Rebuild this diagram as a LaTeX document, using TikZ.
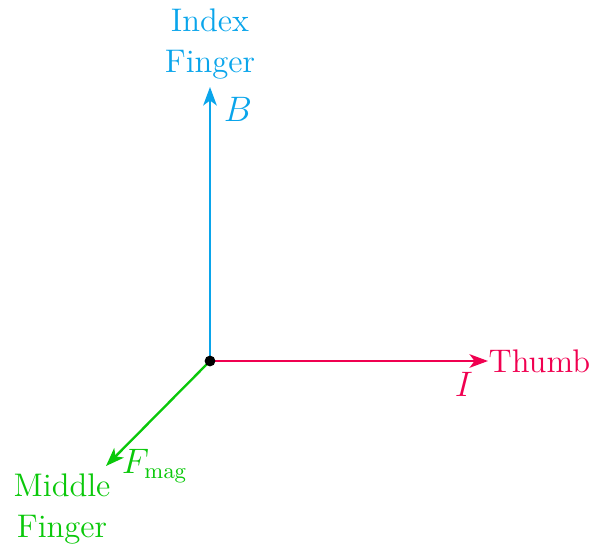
\documentclass[12pt,tikz,border=0pt]{standalone}
\usetikzlibrary{arrows.meta}
\definecolor{cblue}{RGB}{10,165,235}
\definecolor{cred}{RGB}{240,0,80}
\definecolor{cgreen}{RGB}{10,200,10}
\begin{document}
\begin{tikzpicture}[x=0.01429cm,y=-0.01429cm,
  font=\fontsize{13.3}{16.5}\selectfont,
  axis/.style={line width=0.95pt,-{Stealth[length=7.5pt,width=5.5pt,inset=2pt]}},
  lbl/.style={inner sep=1pt}]
\useasboundingbox (0,0) rectangle (593,546);
\coordinate (O) at (210,361);
\coordinate (Bt) at (210,87);
\coordinate (It) at (488,361);
\coordinate (Ft) at (106,466);
\draw[axis,cblue] (O) -- (Bt);
\draw[axis,cred] (O) -- (It);
\draw[axis,cgreen] (O) -- (Ft);
\fill (O) circle (2.2pt);
\node[lbl,cblue,align=center] (bname) at (210,44) {Index\\Finger};
\node[lbl,cblue,anchor=west] (blab) at (221,109) {$B$};
\node[lbl,cred,anchor=east] (iname) at (593,361) {Thumb};
\node[lbl,cred] (ilab) at (464,384) {$I$};
\node[lbl,cgreen,align=center] (fname) at (62,509) {Middle\\Finger};
\node[lbl,cgreen,anchor=west] (flab) at (119,466) {$F_{\mathrm{mag}}$};
\end{tikzpicture}
\end{document}
